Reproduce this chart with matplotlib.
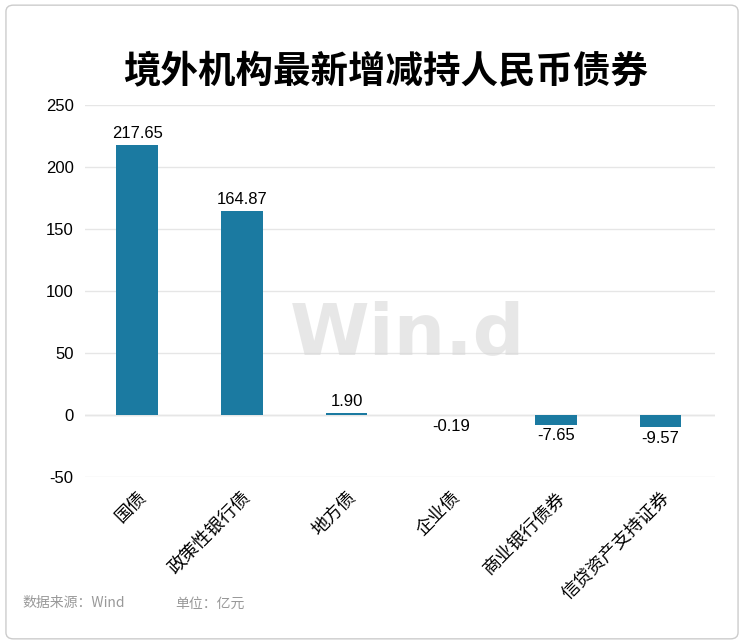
import matplotlib.pyplot as plt
from matplotlib.patches import FancyBboxPatch

plt.rcParams['font.family'] = ['Noto Sans CJK SC', 'DejaVu Sans']
plt.rcParams['axes.unicode_minus'] = False

categories = ['国债', '政策性银行债', '地方债', '企业债', '商业银行债券', '信贷资产支持证券']
values = [217.65, 164.87, 1.90, -0.19, -7.65, -9.57]
labels = ['217.65', '164.87', '1.90', '-0.19', '-7.65', '-9.57']

fig = plt.figure(figsize=(7.44, 6.44), dpi=100)
fig.patches.append(FancyBboxPatch((0.008, 0.008), 0.984, 0.984, boxstyle='round,pad=0,rounding_size=0.01',
                                  transform=fig.transFigure, fill=False, edgecolor='#cccccc', linewidth=1))
ax = fig.add_axes([0.114, 0.259, 0.847, 0.578])

x = range(len(categories))
ax.bar(x, values, width=0.4, color='#1b7aa1', zorder=3)
for xi, v, lab in zip(x, values, labels):
    if v >= 0:
        ax.text(xi, v + 3, lab, ha='center', va='bottom', fontsize=12, family='Liberation Sans')
    else:
        ax.text(xi, v - 3, lab, ha='center', va='top', fontsize=12, family='Liberation Sans')

ax.set_ylim(-50, 250)
ax.set_yticks(range(-50, 251, 50))
ax.set_yticklabels([str(t) for t in range(-50, 251, 50)], family='Liberation Sans', fontsize=12)
ax.set_xlim(-0.5, 5.52)
ax.set_xticks(list(x))
ax.set_xticklabels(categories, rotation=45, ha='right', rotation_mode='anchor', fontsize=13)
ax.tick_params(length=0, pad=8)
ax.grid(axis='y', color='#e6e6e6', linewidth=1, zorder=0)
for s in ax.spines.values():
    s.set_visible(False)
ax.axhline(0, color='#e0e0e0', linewidth=1, zorder=1)

fig.text(0.518, 0.89, '境外机构最新增减持人民币债券', ha='center', va='center', fontsize=27, fontweight='bold')
fig.text(0.548, 0.48, 'Win.d', ha='center', va='center', fontsize=52, fontweight='bold',
         color='#d8d8d8', alpha=0.6, family='DejaVu Sans', zorder=0)
fig.text(0.03, 0.063, '数据来源：Wind', ha='left', va='center', fontsize=10, color='#999999')
fig.text(0.235, 0.063, '单位：亿元', ha='left', va='center', fontsize=10, color='#999999')

fig.savefig('out.png', dpi=100)
